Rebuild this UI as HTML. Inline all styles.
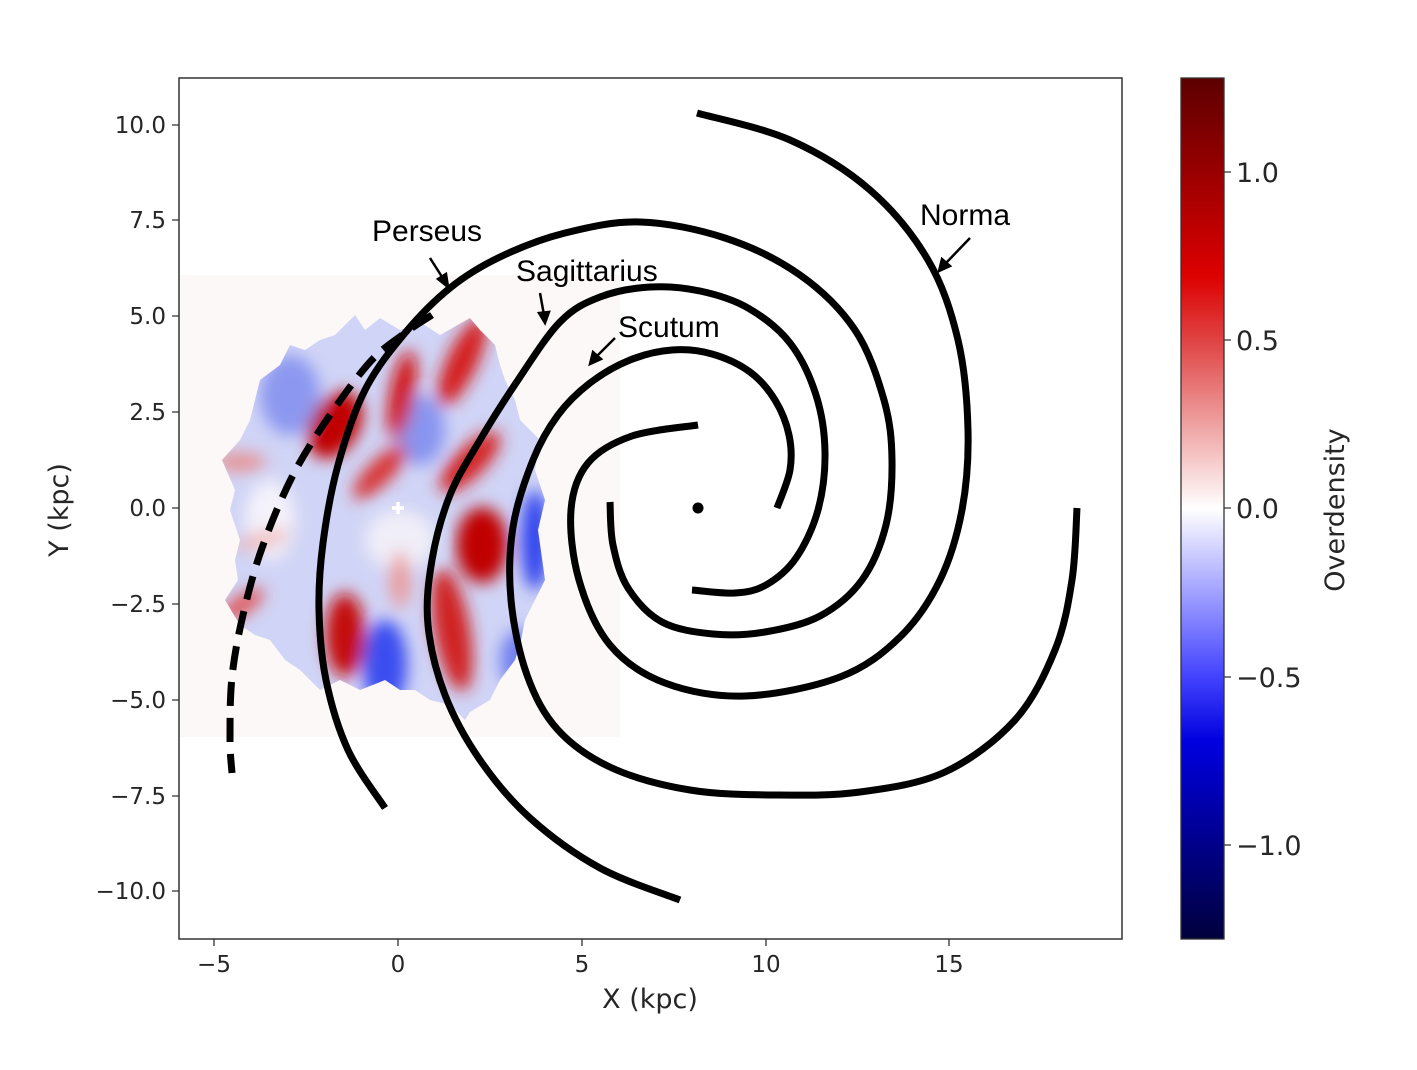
<!DOCTYPE html>
<html><head><meta charset="utf-8"><style>
html,body{margin:0;padding:0;background:#fff;}
svg{display:block;}
text{font-family:"DejaVu Sans","Liberation Sans",sans-serif;fill:#262626;}
.lab{font-family:"Liberation Sans",sans-serif;fill:#000;font-size:30px;}
</style></head><body>
<svg id="s" width="1417" height="1070" viewBox="0 0 1417 1070" xmlns="http://www.w3.org/2000/svg">
<defs>
<filter id="b" x="-20%" y="-20%" width="140%" height="140%"><feGaussianBlur stdDeviation="8"/></filter>
<filter id="b3" x="-10%" y="-10%" width="120%" height="120%"><feGaussianBlur stdDeviation="3"/></filter>
<linearGradient id="cb" x1="0" y1="0" x2="0" y2="1">
<stop offset="0" stop-color="#5c0000"/><stop offset="0.23" stop-color="#dd0000"/><stop offset="0.31" stop-color="#e04848"/>
<stop offset="0.5" stop-color="#ffffff"/><stop offset="0.69" stop-color="#4848ff"/><stop offset="0.77" stop-color="#0000e0"/>
<stop offset="1" stop-color="#00003c"/></linearGradient>
<clipPath id="blob"><path d="M355,315 L365,330 L380,318 L400,330 L420,322 L440,335 L470,318 L480,330 L495,345 L500,365 L505,380 L515,400 L520,420 L540,440 L535,470 L545,500 L538,530 L545,580 L525,620 L520,645 L515,660 L500,680 L490,700 L470,712 L465,720 L450,705 L430,700 L415,690 L400,690 L385,680 L360,690 L340,680 L320,690 L300,670 L285,660 L270,640 L255,635 L240,625 L225,600 L238,580 L235,560 L240,540 L230,510 L235,490 L222,460 L240,440 L250,420 L255,400 L260,380 L280,365 L290,345 L305,350 L320,340 L335,335 Z"/></clipPath>
</defs>
<rect x="179" y="275" width="441" height="462" fill="#fdf8f8"/>
<g clip-path="url(#blob)">
<rect x="200" y="300" width="360" height="440" fill="#d0d4f6"/>
<g filter="url(#b)">
<ellipse cx="290" cy="395" rx="30" ry="40" fill="#8c98f0"/>
<ellipse cx="385" cy="665" rx="22" ry="45" fill="#3b4ef0"/>
<ellipse cx="535" cy="540" rx="14" ry="50" fill="#3344ee"/>
<ellipse cx="420" cy="430" rx="25" ry="35" fill="#8894f0"/>
<ellipse cx="520" cy="660" rx="20" ry="30" fill="#7080f0"/>
<ellipse cx="270" cy="520" rx="25" ry="40" fill="#f4f2fa"/>
<ellipse cx="400" cy="540" rx="35" ry="30" fill="#f0eef8"/>
<ellipse cx="335" cy="425" rx="24" ry="36" transform="rotate(30 335 425)" fill="#c00000"/>
<ellipse cx="402" cy="395" rx="12" ry="45" transform="rotate(10 402 395)" fill="#d01010"/>
<ellipse cx="462" cy="362" rx="15" ry="48" transform="rotate(25 462 362)" fill="#d41a1a"/>
<ellipse cx="380" cy="472" rx="12" ry="36" transform="rotate(45 380 472)" fill="#d83030"/>
<ellipse cx="470" cy="462" rx="40" ry="15" transform="rotate(-45 470 462)" fill="#d42020"/>
<ellipse cx="482" cy="545" rx="26" ry="38" fill="#c00000"/>
<ellipse cx="345" cy="635" rx="20" ry="42" fill="#c40808"/>
<ellipse cx="452" cy="630" rx="18" ry="62" transform="rotate(-10 452 630)" fill="#d02020"/>
<ellipse cx="240" cy="462" rx="26" ry="9" fill="#e89090"/>
<ellipse cx="242" cy="605" rx="26" ry="9" transform="rotate(-35 242 605)" fill="#e05050"/>
<ellipse cx="400" cy="580" rx="10" ry="28" fill="#ec9a9a"/>
<ellipse cx="262" cy="540" rx="28" ry="7" transform="rotate(-15 262 540)" fill="#f0b0b0"/>
</g>
</g>
<g id="arms" fill="none" stroke="#000" stroke-width="7" stroke-linecap="butt" stroke-linejoin="round"></g>
<circle cx="698" cy="508" r="5.5" fill="#000"/>
<path d="M392,508 h12 M398,502 v12" stroke="#fff" stroke-width="3.5"/>
<rect x="179" y="78" width="943" height="861" fill="none" stroke="#333" stroke-width="1.5"/>
<g stroke="#333" stroke-width="1.3">
<path d="M214,939v7M398,939v7M582,939v7M766,939v7M949,939v7"/>
<path d="M179,125h-7M179,220h-7M179,316h-7M179,412h-7M179,508h-7M179,604h-7M179,700h-7M179,796h-7M179,891h-7"/>
</g>
<g font-size="23" text-anchor="middle">
<text x="214" y="972">−5</text><text x="398" y="972">0</text><text x="582" y="972">5</text><text x="766" y="972">10</text><text x="949" y="972">15</text>
</g>
<g font-size="23" text-anchor="end">
<text x="166" y="133">10.0</text><text x="166" y="228">7.5</text><text x="166" y="324">5.0</text><text x="166" y="420">2.5</text><text x="166" y="516">0.0</text><text x="166" y="612">−2.5</text><text x="166" y="708">−5.0</text><text x="166" y="804">−7.5</text><text x="166" y="899">−10.0</text>
</g>
<text x="650" y="1008" font-size="27" text-anchor="middle">X (kpc)</text>
<text transform="translate(68 510) rotate(-90)" font-size="27" text-anchor="middle">Y (kpc)</text>
<rect x="1181" y="78" width="43" height="861" fill="url(#cb)" stroke="#333" stroke-width="1.3"/>
<g stroke="#333" stroke-width="1.3"><path d="M1224,172h7M1224,340h7M1224,508h7M1224,677h7M1224,845h7"/></g>
<g font-size="27">
<text x="1236" y="182">1.0</text><text x="1236" y="350">0.5</text><text x="1236" y="518">0.0</text><text x="1236" y="687">−0.5</text><text x="1236" y="855">−1.0</text>
</g>
<text transform="translate(1344 510) rotate(-90)" font-size="27" text-anchor="middle">Overdensity</text>
<text class="lab" x="372" y="241">Perseus</text>
<text class="lab" x="516" y="281">Sagittarius</text>
<text class="lab" x="618" y="337">Scutum</text>
<text class="lab" x="920" y="225">Norma</text>
<g stroke="#000" stroke-width="2.5" fill="#000">
<path d="M430,258 L444,280"/><path d="M448,287 L438,279 L446,274 Z"/>
<path d="M540,293 L544,315"/><path d="M545,323 L539,313 L549,312 Z"/>
<path d="M615,338 L596,357"/><path d="M590,364 L593,352 L601,359 Z"/>
<path d="M970,238 L946,263"/><path d="M939,271 L942,259 L950,266 Z"/>
</g>
</svg>
<script>
function cr(p){var d="M"+p[0][0]+","+p[0][1];for(var i=0;i<p.length-1;i++){var p0=p[i-1]||p[i],p1=p[i],p2=p[i+1],p3=p[i+2]||p2;
var c1=[p1[0]+(p2[0]-p0[0])/6,p1[1]+(p2[1]-p0[1])/6],c2=[p2[0]-(p3[0]-p1[0])/6,p2[1]-(p3[1]-p1[1])/6];
d+=" C"+c1[0].toFixed(1)+","+c1[1].toFixed(1)+" "+c2[0].toFixed(1)+","+c2[1].toFixed(1)+" "+p2[0]+","+p2[1];}return d;}
var arms=[
[[385,808],[348,750],[326,680],[319,610],[323,543],[338,465],[365,390],[405,333],[450,288],[500,257],[565,233],[640,222],[725,238],[800,275],[855,330],[884,400],[892,460],[886,525],[862,580],[820,616],[765,632],[713,634],[662,622],[628,588],[613,545],[610,502]],
[[680,900],[600,868],[530,818],[480,760],[445,695],[428,625],[432,560],[450,495],[480,440],[516,383],[560,322],[600,297],[650,287],[700,291],[748,308],[790,343],[816,395],[825,452],[818,510],[796,558],[766,585],[735,593],[692,590]],
[[1077,508],[1072,580],[1055,650],[1015,720],[945,772],[860,792],[775,795],[690,790],[612,768],[558,730],[527,675],[511,600],[513,527],[533,460],[558,415],[590,383],[630,360],[672,350],[712,354],[750,372],[775,400],[789,435],[790,470],[777,508]],
[[697,113],[790,140],[870,190],[928,260],[958,340],[968,430],[962,510],[940,580],[900,637],[840,677],[745,696],[665,683],[610,645],[579,580],[571,510],[588,463],[632,436],[698,425]]
];
var g=document.getElementById("arms"),h="";
arms.forEach(function(a){h+='<path d="'+cr(a)+'"/>';});
h+='<path stroke-dasharray="24 12" d="'+cr([[432,315],[405,333],[370,362],[328,418],[292,477],[262,548],[243,615],[232,677],[230,740],[232,773]])+'"/>';
g.innerHTML=h;
</script>
</body></html>
